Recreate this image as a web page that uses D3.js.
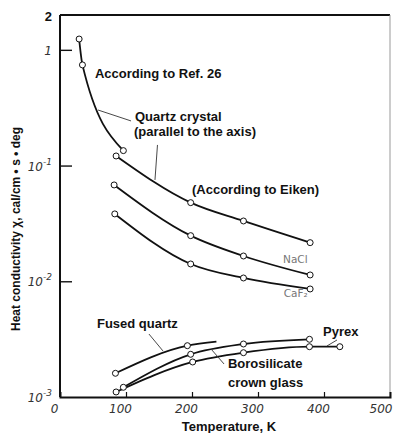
<!DOCTYPE html>
<html><head><meta charset="utf-8">
<script src="https://cdn.jsdelivr.net/npm/d3@7"></script>
<style>
html,body{margin:0;padding:0;background:#fff;}
svg{display:block;}
</style></head>
<body>
<svg id="c" width="393" height="433"></svg>
<script>
// ---- data ----
const xTicks = [0, 100, 200, 300, 400, 500];
const yTicks = [1e-3, 1e-2, 1e-1, 1];
const yTickLabels = [["10", "-3"], ["10", "-2"], ["10", "-1"], ["1", ""]];
const yTopLabel = "2";

const ref26T = [29, 34, 96];
const ref26V = [1.24, 0.741, 0.1346];

const quartzT = [85, 198, 278, 379];
const quartzV = [0.121, 0.0478, 0.0332, 0.02157];

const naclT = [82, 198, 278, 379];
const naclV = [0.068, 0.02479, 0.01654, 0.01134];

const caf2T = [83, 198, 278, 379];
const caf2V = [0.0382, 0.01411, 0.01068, 0.00858];

const fusedT = [84, 193, 237];
const fusedV = [0.001603, 0.002776, 0.003006];
const fusedMarked = 2; // last point is a line end only

const boroT = [96, 198, 278, 378];
const boroV = [0.001213, 0.002339, 0.002871, 0.003153];

const pyrexT = [85, 201, 278, 378, 424];
const pyrexV = [0.001105, 0.002007, 0.002415, 0.002721, 0.002721];

// text labels anchored in data units: [T, value]
const labelTexts = ["According to Ref. 26", "Quartz crystal", "(parallel to the axis)",
  "(According to Eiken)", "Fused quartz", "Pyrex", "Borosilicate", "crown glass"];
const labelAt = [[53, 0.571], [113.6, 0.243], [112, 0.180], [200, 0.0568],
  [56, 0.00395], [398.5, 0.00337], [254.5, 0.00178], [254.5, 0.00122]];
const smallLabels = ["NaCl", "CaF₂"];
const smallAt = [[338, 0.0144], [339, 0.00731]];
const leaders = [
  [[57.6, 0.302], [107.6, 0.243]],
  [[147.7, 0.1507], [143.9, 0.0751]],
  [[134.8, 0.0035], [156, 0.0025]],
  [[228.8, 0.0026], [248.5, 0.00193]],
  [[404.5, 0.00276], [419.7, 0.00311]]
];

// ---- drawing ----
const svg = d3.select("#c");
const x = d3.scaleLinear().domain([0, 500]).range([60, 390]);
const y = d3.scaleLog().domain([1e-3, 2]).range([397, 15]);

const series = [
  {T: ref26T, V: ref26V, m: ref26T.length},
  {T: quartzT, V: quartzV, m: quartzT.length},
  {T: naclT, V: naclV, m: naclT.length},
  {T: caf2T, V: caf2V, m: caf2T.length},
  {T: fusedT, V: fusedV, m: fusedMarked},
  {T: boroT, V: boroV, m: boroT.length},
  {T: pyrexT, V: pyrexV, m: pyrexT.length}
];

const font = "'Liberation Sans', Arial, sans-serif";

// frame
const x0 = x.range()[0], x1 = x.range()[1], yb = y.range()[0], yt = y.range()[1];
svg.append("line").attr("x1", x0).attr("x2", x1).attr("y1", yt).attr("y2", yt)
  .attr("stroke", "#111").attr("stroke-width", 2);
svg.append("line").attr("x1", x1).attr("x2", x1).attr("y1", yt).attr("y2", yb)
  .attr("stroke", "#999").attr("stroke-width", 1);

// x axis
const xAxis = d3.axisBottom(x).tickValues(xTicks).tickSize(-5).tickPadding(7).tickFormat(d3.format("d"));
const gx = svg.append("g").attr("transform", `translate(0,${yb})`).call(xAxis);
gx.select(".domain").attr("stroke", "#111").attr("stroke-width", 2);
gx.selectAll(".tick line").attr("stroke", "#111").attr("stroke-width", 1.2)
  .filter(d => d === 0 || d === 500).remove();
gx.selectAll(".tick text").attr("font-family", "'DejaVu Sans', sans-serif").attr("font-style", "italic")
  .attr("font-size", 12).attr("fill", "#333").attr("dx", -6);
gx.selectAll(".tick text").filter(d => d === 500).attr("text-anchor", "end").attr("dx", 2);

// y axis
const yAxis = d3.axisLeft(y).tickValues(yTicks).tickSize(-12).tickFormat("");
const gy = svg.append("g").attr("transform", `translate(${x0},0)`).call(yAxis);
gy.select(".domain").attr("stroke", "#111").attr("stroke-width", 2).attr("d", `M0,${yb}V${yt}`);
gy.selectAll(".tick line").attr("stroke", "#111").attr("stroke-width", 1.4)
  .filter(d => d === 1e-3).remove();
yTicks.forEach((v, i) => {
  const t = svg.append("text").attr("x", 52).attr("y", y(v) + 5).attr("text-anchor", "end")
    .attr("font-family", "'DejaVu Sans', sans-serif").attr("font-style", "italic")
    .attr("font-size", 12).attr("fill", "#333");
  t.append("tspan").text(yTickLabels[i][0]);
  if (yTickLabels[i][1]) t.append("tspan").attr("dy", -6).attr("font-size", 9).text(yTickLabels[i][1]);
});
svg.append("text").attr("x", 52).attr("y", yt + 6).attr("text-anchor", "end")
  .attr("font-family", font).attr("font-weight", "bold").attr("font-size", 13).attr("fill", "#111")
  .text(yTopLabel);

// curves
const line = d3.line().x(d => x(d[0])).y(d => y(d[1])).curve(d3.curveMonotoneX);
series.forEach(s => {
  const pts = s.T.map((t, i) => [t, s.V[i]]);
  svg.append("path").attr("d", line(pts)).attr("fill", "none")
    .attr("stroke", "#111").attr("stroke-width", 1.8);
});
series.forEach(s => {
  const pts = s.T.map((t, i) => [t, s.V[i]]).slice(0, s.m);
  svg.selectAll(null).data(pts).enter().append("circle")
    .attr("cx", d => x(d[0])).attr("cy", d => y(d[1])).attr("r", 3)
    .attr("fill", "#fff").attr("stroke", "#111").attr("stroke-width", 1);
});

// leaders
leaders.forEach(l => {
  svg.append("line").attr("x1", x(l[0][0])).attr("y1", y(l[0][1]))
    .attr("x2", x(l[1][0])).attr("y2", y(l[1][1]))
    .attr("stroke", "#333").attr("stroke-width", 0.9);
});

// labels
labelTexts.forEach((t, i) => {
  svg.append("text").attr("x", x(labelAt[i][0])).attr("y", y(labelAt[i][1]))
    .attr("font-family", font).attr("font-weight", "bold").attr("font-size", 13)
    .attr("fill", "#111").text(t);
});
smallLabels.forEach((t, i) => {
  svg.append("text").attr("x", x(smallAt[i][0])).attr("y", y(smallAt[i][1]))
    .attr("font-family", "'DejaVu Sans', sans-serif").attr("font-size", 10.5)
    .attr("fill", "#777").text(t);
});

// axis titles
svg.append("text").attr("x", 229).attr("y", 431).attr("text-anchor", "middle")
  .attr("font-family", font).attr("font-weight", "bold").attr("font-size", 13).attr("fill", "#111")
  .text("Temperature, K");
svg.append("text").attr("transform", "translate(20,229) rotate(-90)").attr("text-anchor", "middle")
  .attr("font-family", font).attr("font-weight", "bold").attr("font-size", 12).attr("fill", "#111")
  .text("Heat conductivity χ, cal/cm • s • deg");
</script>
</body></html>
